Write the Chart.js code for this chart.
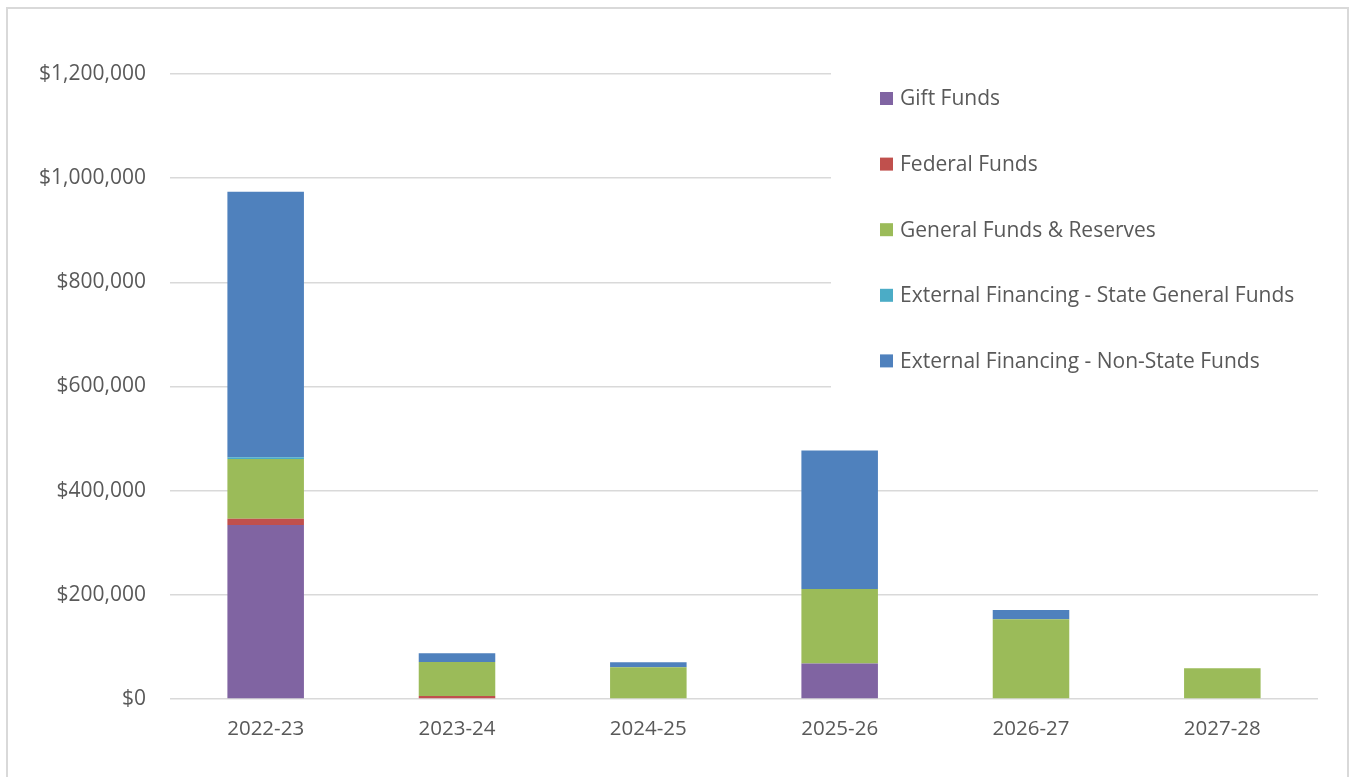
<!DOCTYPE html>
<html>
<head>
<meta charset="utf-8">
<script src="https://cdn.jsdelivr.net/npm/chart.js@4"></script>
<style>
html,body{margin:0;padding:0;background:#fff;}
#wrap{position:relative;width:1351px;height:777px;}
canvas{display:block;}
</style>
</head>
<body>
<div id="wrap"><canvas id="c" width="1351" height="777"></canvas></div>
<script>
const categories = ["2022-23","2023-24","2024-25","2025-26","2026-27","2027-28"];
const giftFunds = [334000, 0, 0, 68000, 0, 0];
const federalFunds = [12000, 6000, 0, 0, 0, 0];
const generalFunds = [115000, 65000, 61000, 143000, 153000, 59000];
const extStateGeneral = [3000, 0, 0, 0, 0, 0];
const extNonState = [510000, 17000, 9500, 266000, 18000, 0];
const yTicks = [0, 200000, 400000, 600000, 800000, 1000000, 1200000];
const seriesNames = ["Gift Funds","Federal Funds","General Funds & Reserves","External Financing - State General Funds","External Financing - Non-State Funds"];
const seriesColors = ["#8064A2","#C0504D","#9BBB59","#4BACC6","#4F81BD"];

const FONT = "'Open Sans'";
const values = [giftFunds, federalFunds, generalFunds, extStateGeneral, extNonState];

const frame = {
  id: 'frame',
  beforeDraw(chart){
    const ctx = chart.ctx;
    ctx.save();
    ctx.fillStyle = '#fff';
    ctx.fillRect(0,0,chart.width,chart.height);
    ctx.strokeStyle = '#D9D9D9';
    ctx.lineWidth = 2;
    ctx.strokeRect(7, 8, 1341, 800);
    ctx.restore();
  }
};

const sideLegend = {
  id: 'sideLegend',
  afterDraw(chart){
    const ctx = chart.ctx;
    ctx.save();
    ctx.fillStyle = '#fff';
    ctx.fillRect(831, 40, 487, 350);
    ctx.font = '21px ' + FONT;
    ctx.textBaseline = 'middle';
    ctx.textAlign = 'left';
    chart.data.datasets.forEach((ds, i) => {
      const y = 98 + i * 65.6;
      ctx.fillStyle = ds.backgroundColor;
      ctx.fillRect(880, y - 6, 13, 13);
      ctx.fillStyle = '#595959';
      ctx.fillText(ds.label, 900, y + 1.5);
    });
    ctx.restore();
  }
};

new Chart(document.getElementById('c'), {
  type: 'bar',
  data: {
    labels: categories,
    datasets: seriesNames.map((n, i) => ({
      label: n,
      data: values[i],
      backgroundColor: seriesColors[i],
      borderWidth: 0,
      barPercentage: 1,
      categoryPercentage: 0.4
    }))
  },
  options: {
    responsive: false,
    animation: false,
    layout: { padding: { left: 0, right: 33, top: 74, bottom: 0 } },
    plugins: { legend: { display: false }, tooltip: { enabled: false } },
    scales: {
      x: {
        stacked: true,
        grid: { display: false },
        border: { display: false },
        ticks: { color: '#595959', font: { family: FONT, size: 20.5 }, padding: 10 },
        afterFit(s){ s.height = 78; }
      },
      y: {
        stacked: true,
        min: 0, max: 1200000,
        afterBuildTicks(s){ s.ticks = yTicks.map(v => ({ value: v })); },
        grid: { color: '#D9D9D9', lineWidth: 1.5, drawTicks: false },
        border: { display: false },
        ticks: {
          color: '#595959', font: { family: FONT, size: 21 }, padding: 24,
          callback: v => '$' + v.toLocaleString('en-US')
        },
        afterFit(s){ s.width = 170; }
      }
    }
  },
  plugins: [frame, sideLegend]
});
</script>
</body>
</html>
